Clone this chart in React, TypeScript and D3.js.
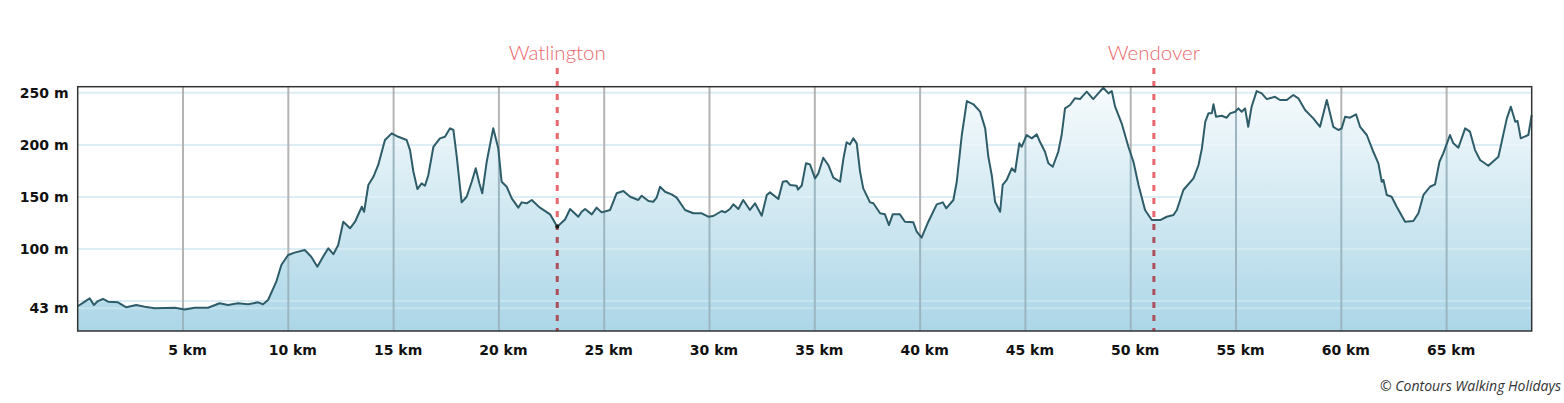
import { useEffect, useRef } from 'react'
import * as d3 from 'd3'

// elevation profile (distance in km, height in m)
const distanceKm = [
  0, 0.3, 0.57, 0.77, 0.96, 1.2, 1.44, 1.91, 2.31, 2.78, 3.18, 3.66, 4.61, 5.08, 5.56, 6.19, 6.74, 7.14, 7.61, 8.09,
  8.56, 8.8, 9.04, 9.43, 9.67, 9.99, 10.3, 10.78, 11.09, 11.38, 11.65, 11.9, 12.14, 12.37, 12.61, 12.93, 13.17, 13.49, 13.6, 13.8,
  14.04, 14.27, 14.59, 14.91, 15.22, 15.62, 15.78, 15.94, 16.13, 16.33, 16.49, 16.65, 16.89, 17.2, 17.44, 17.68, 17.84, 18.0, 18.23, 18.47,
  18.71, 18.9, 19.07, 19.21, 19.42, 19.73, 19.97, 20.13, 20.37, 20.61, 20.92, 21.08, 21.32, 21.56, 21.95, 22.43, 22.77, 23.14, 23.38, 23.77,
  23.93, 24.09, 24.41, 24.64, 24.88, 25.28, 25.59, 25.91, 26.23, 26.62, 26.78, 27.1, 27.33, 27.49, 27.65, 27.89, 28.2, 28.44, 28.84, 29.23,
  29.63, 29.94, 30.18, 30.58, 30.74, 30.97, 31.13, 31.37, 31.6, 31.92, 32.16, 32.48, 32.72, 32.87, 33.27, 33.48, 33.67, 33.82, 34.14, 34.2,
  34.38, 34.58, 34.77, 35.01, 35.17, 35.4, 35.64, 35.88, 36.2, 36.36, 36.51, 36.67, 36.83, 36.99, 37.15, 37.3, 37.62, 37.78, 38.1, 38.33,
  38.52, 38.7, 39.04, 39.28, 39.68, 39.84, 40.07, 40.39, 40.79, 41.08, 41.24, 41.58, 41.74, 41.98, 42.22, 42.53, 42.85, 43.09, 43.24, 43.4,
  43.56, 43.8, 43.92, 44.11, 44.35, 44.51, 44.71, 44.82, 45.06, 45.3, 45.54, 45.69, 45.93, 46.09, 46.3, 46.56, 46.72, 46.88, 47.12, 47.35,
  47.59, 47.91, 48.22, 48.46, 48.7, 48.94, 49.1, 49.26, 49.57, 49.89, 50.13, 50.37, 50.68, 51.0, 51.4, 51.71, 52.03, 52.19, 52.5, 52.98,
  53.22, 53.38, 53.54, 53.69, 53.85, 53.93, 54.05, 54.32, 54.56, 54.72, 54.96, 55.11, 55.27, 55.43, 55.58, 55.74, 55.98, 56.22, 56.46, 56.85,
  57.09, 57.41, 57.72, 57.96, 58.28, 58.67, 58.99, 59.31, 59.62, 59.86, 60.02, 60.18, 60.41, 60.7, 60.89, 61.21, 61.52, 61.76, 61.92, 62.0,
  62.16, 62.39, 62.63, 63.03, 63.42, 63.66, 63.9, 64.21, 64.45, 64.66, 64.84, 65.16, 65.32, 65.56, 65.88, 66.11, 66.35, 66.59, 66.98, 67.46,
  67.86, 68.05, 68.26, 68.37, 68.52, 68.88, 69.04,
]
const elevationM = [
  45, 49, 52.6, 46.2, 50, 52, 49.4, 48.8, 44, 46.2, 44.6, 43, 43.6, 42, 43.6, 43.6, 47.9, 46.2, 47.9, 46.9,
  48.8, 46.9, 51, 68.6, 84.6, 94.2, 96.5, 99, 92.6, 83, 92.6, 100.7, 95, 103.8, 126.2, 119.9, 126.2, 140.6, 135.8, 161.5,
  169.4, 180.7, 204.7, 211.1, 207.8, 204.7, 195, 174.2, 157.6, 163.1, 160.8, 171.1, 198.2, 206.3, 207.8, 215.9, 214.3, 188.6, 144.8, 150.2,
  164.6, 177.5, 163.1, 153.5, 183.8, 215.9, 196.7, 164.6, 159.8, 148.7, 139.7, 144.8, 143.9, 147.1, 139.7, 133.3, 121.4, 128.3, 138.4, 131,
  135.8, 138.4, 133.3, 139.7, 135.2, 137.5, 153.5, 155.7, 150.2, 147.1, 151.2, 146.1, 145.4, 149.3, 159.8, 155, 152.5, 149.3, 137.5, 134.3,
  134.3, 131, 131.7, 136.5, 135.2, 138.4, 142.9, 138.4, 147.1, 137.5, 143.9, 132, 151.9, 154.4, 148, 164.6, 165.3, 161.5, 160.8, 157,
  161, 182.3, 181.3, 167.9, 172.7, 187.7, 180.7, 168.5, 164.6, 187.1, 202.5, 200.5, 206.3, 201.5, 174.2, 158.3, 144.8, 143.9, 134.3, 133.3,
  123, 133.3, 133.3, 126.2, 125.6, 116.6, 110.9, 126.2, 142.9, 144.8, 139.1, 147.1, 164.6, 209.5, 242.1, 239, 231.9, 215.9, 188.6, 171.1,
  145.4, 135.8, 161.5, 166.3, 177.5, 174.2, 201.5, 198.2, 209.5, 206.3, 210.1, 203, 193.4, 182.3, 179, 193.4, 209.5, 235.1, 238.3, 244.7,
  244, 251.1, 244, 249.5, 254.9, 249.5, 251.7, 236.7, 220.7, 198.2, 183.8, 161.5, 137.5, 127.8, 127.8, 131, 132.7, 137.5, 156.7, 167.9,
  180.7, 196.7, 222.2, 230.3, 230.3, 239, 227.1, 228, 226.1, 230.3, 231.9, 235.1, 231.9, 235.1, 217.4, 236.7, 251.7, 249.5, 244, 246.2,
  243.1, 243.1, 247.9, 244.7, 233.5, 225.5, 217.4, 243.1, 217.4, 214.3, 215.9, 227.1, 226.1, 229.4, 217.4, 209.5, 193.4, 182.3, 164.6, 166.3,
  151.9, 150.2, 140.6, 126.2, 126.9, 134.3, 151.9, 159.8, 162.1, 183.8, 191.9, 209.5, 201.5, 197.3, 215.9, 212.7, 195, 185.5, 180, 188.6,
  225.5, 236.7, 222.2, 222.9, 206.3, 209.5, 228.7,
]

const yTicks = [43, 100, 150, 200, 250]
const yGrid = [43, 50, 100, 150, 200, 250]
const xTicks = [5, 10, 15, 20, 25, 30, 35, 40, 45, 50, 55, 60, 65]

const townNames = ['Watlington', 'Wendover']
const townKm = [22.77, 51.1]

export default function App() {
  const svgRef = useRef<SVGSVGElement>(null)

  useEffect(() => {
    if (!svgRef.current) return
    const width = 1564
    const height = 403
    const left = 77.7
    const right = 1531.7
    const top = 86.7
    const bottom = 331

    const svg = d3.select(svgRef.current)
    svg.selectAll('*').remove()
    svg.attr('width', width).attr('height', height)

    const data = distanceKm.map((d, i) => ({ km: d, m: elevationM[i] }))

    const x = d3.scaleLinear().domain([0, 69.04]).range([left, right])
    const y = d3.scaleLinear().domain([21.25, 255.9]).range([bottom, top])

    const defs = svg.append('defs')
    const grad = defs.append('linearGradient')
      .attr('id', 'fillGrad')
      .attr('gradientUnits', 'userSpaceOnUse')
      .attr('x1', 0).attr('x2', 0)
      .attr('y1', top).attr('y2', bottom)
    grad.append('stop').attr('offset', '0%').attr('stop-color', '#f7fbfd')
    grad.append('stop').attr('offset', '100%').attr('stop-color', '#acd6e7')

    const area = d3.area<{ km: number; m: number }>()
      .x(d => x(d.km))
      .y0(bottom)
      .y1(d => y(d.m))
    const line = d3.line<{ km: number; m: number }>()
      .x(d => x(d.km))
      .y(d => y(d.m))

    defs.append('clipPath').attr('id', 'under')
      .append('path').attr('d', area(data))

    // grid, outside the fill
    svg.append('g')
      .selectAll('line')
      .data(yGrid)
      .join('line')
      .attr('x1', left).attr('x2', right)
      .attr('y1', d => y(d)).attr('y2', d => y(d))
      .attr('stroke', '#dcedf5')
      .attr('stroke-width', 2)

    svg.append('g')
      .selectAll('line')
      .data(xTicks)
      .join('line')
      .attr('x1', d => x(d)).attr('x2', d => x(d))
      .attr('y1', top).attr('y2', bottom)
      .attr('stroke', '#b4b4b4')
      .attr('stroke-width', 2)

    svg.append('g')
      .selectAll('line')
      .data(townKm)
      .join('line')
      .attr('x1', d => x(d)).attr('x2', d => x(d))
      .attr('y1', 68).attr('y2', bottom)
      .attr('stroke', '#e8686d')
      .attr('stroke-width', 3)
      .attr('stroke-dasharray', '6,7')

    svg.append('path')
      .attr('d', area(data))
      .attr('fill', 'url(#fillGrad)')

    // grid, seen through the fill
    const under = svg.append('g').attr('clip-path', 'url(#under)')
    under.selectAll('line.h')
      .data(yGrid)
      .join('line')
      .attr('class', 'h')
      .attr('x1', left).attr('x2', right)
      .attr('y1', d => y(d)).attr('y2', d => y(d))
      .attr('stroke', '#ffffff')
      .attr('stroke-opacity', 0.25)
      .attr('stroke-width', 2)
    under.selectAll('line.v')
      .data(xTicks)
      .join('line')
      .attr('class', 'v')
      .attr('x1', d => x(d)).attr('x2', d => x(d))
      .attr('y1', top).attr('y2', bottom)
      .attr('stroke', '#9cb6c1')
      .attr('stroke-width', 2)
    under.selectAll('line.t')
      .data(townKm)
      .join('line')
      .attr('class', 't')
      .attr('x1', d => x(d)).attr('x2', d => x(d))
      .attr('y1', 68).attr('y2', bottom)
      .attr('stroke', '#ad4e5b')
      .attr('stroke-width', 3)
      .attr('stroke-dasharray', '6,7')

    svg.append('path')
      .attr('d', line(data))
      .attr('fill', 'none')
      .attr('stroke', '#2e5d69')
      .attr('stroke-width', 2)
      .attr('stroke-linejoin', 'round')

    svg.append('circle')
      .attr('cx', x(townKm[0]))
      .attr('cy', y(121.4))
      .attr('r', 2)
      .attr('fill', '#1a1a1a')

    svg.append('rect')
      .attr('x', left).attr('y', top)
      .attr('width', right - left).attr('height', bottom - top)
      .attr('fill', 'none')
      .attr('stroke', '#333')
      .attr('stroke-width', 1.5)

    // town labels
    svg.append('g')
      .selectAll('text')
      .data(townNames)
      .join('text')
      .attr('x', (_, i) => x(townKm[i]))
      .attr('y', 60)
      .attr('text-anchor', 'middle')
      .attr('font-family', 'Lato, sans-serif')
      .attr('font-weight', 300)
      .attr('font-size', '20.5px')
      .attr('fill', '#e8686d')
      .text(d => d)

    // axis labels
    svg.append('g')
      .selectAll('text')
      .data(yTicks)
      .join('text')
      .attr('x', 68.5)
      .attr('y', d => y(d))
      .attr('dy', '0.36em')
      .attr('text-anchor', 'end')
      .attr('font-family', '"DejaVu Sans", sans-serif')
      .attr('font-weight', 'bold')
      .attr('font-size', '14px')
      .attr('fill', '#111')
      .text(d => `${d} m`)

    svg.append('g')
      .selectAll('text')
      .data(xTicks)
      .join('text')
      .attr('x', d => x(d) + 4.5)
      .attr('y', 355)
      .attr('text-anchor', 'middle')
      .attr('font-family', '"DejaVu Sans", sans-serif')
      .attr('font-weight', 'bold')
      .attr('font-size', '14px')
      .attr('fill', '#111')
      .text(d => `${d} km`)

    svg.append('text')
      .attr('x', 1561)
      .attr('y', 391)
      .attr('text-anchor', 'end')
      .attr('font-family', '"Open Sans", sans-serif')
      .attr('font-style', 'italic')
      .attr('font-size', '14px')
      .attr('fill', '#333')
      .text('© Contours Walking Holidays')
  }, [])

  return (
    <div>
      <svg ref={svgRef} style={{ position: 'absolute', left: 0, top: 0, display: 'block' }}></svg>
    </div>
  )
}
